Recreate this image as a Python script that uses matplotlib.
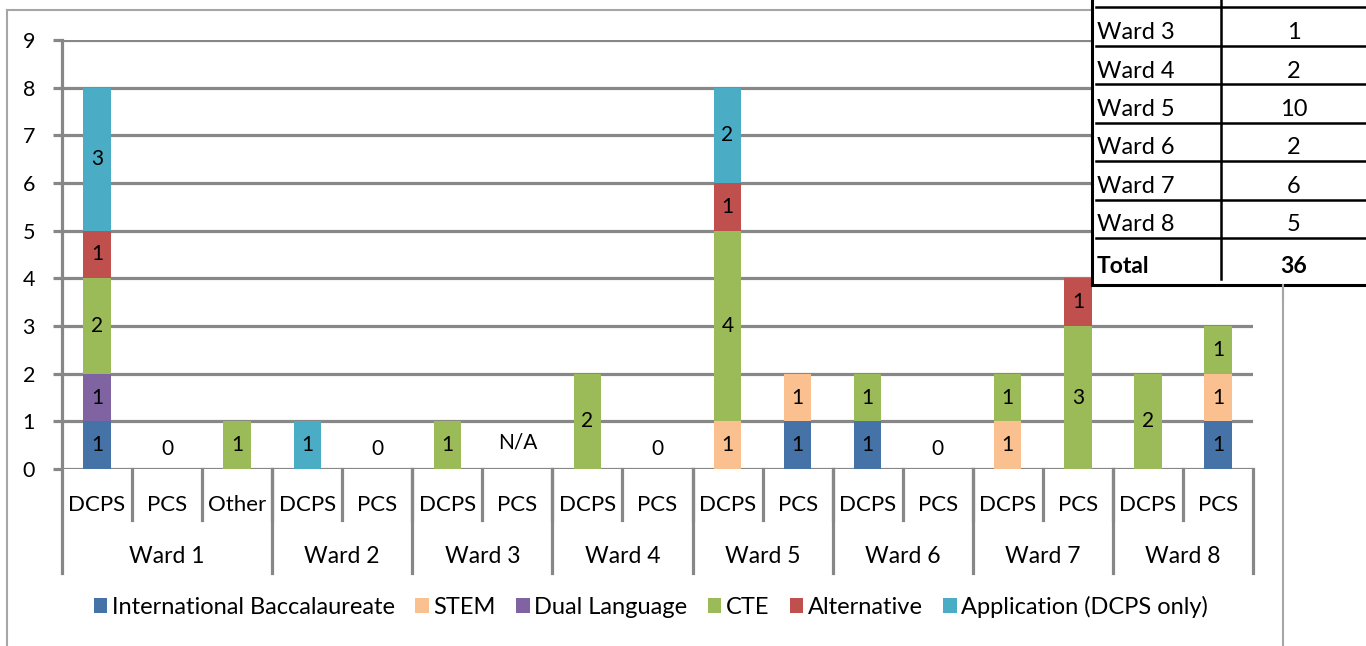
import matplotlib
matplotlib.use("Agg")
import matplotlib.pyplot as plt
from matplotlib.lines import Line2D
from matplotlib.patches import Rectangle, Patch
import numpy as np

plt.rcParams['font.family'] = ['Lato', 'DejaVu Sans']

# ---------------- data ----------------
wards = ['Ward 1', 'Ward 2', 'Ward 3', 'Ward 4', 'Ward 5', 'Ward 6', 'Ward 7', 'Ward 8']
sub_labels = ['DCPS', 'PCS', 'Other', 'DCPS', 'PCS', 'DCPS', 'PCS', 'DCPS', 'PCS',
              'DCPS', 'PCS', 'DCPS', 'PCS', 'DCPS', 'PCS', 'DCPS', 'PCS']
ward_sizes = [3, 2, 2, 2, 2, 2, 2, 2]

series_names = ['International Baccalaureate', 'STEM', 'Dual Language', 'CTE',
                'Alternative', 'Application (DCPS only)']
series_colors = ['#4572A7', '#FAC090', '#8064A2', '#9BBB59', '#C0504D', '#4BACC6']

ib          = [1, 0, 0, 0, 0, 0, 0, 0, 0, 0, 1, 1, 0, 0, 0, 0, 1]
stem        = [0, 0, 0, 0, 0, 0, 0, 0, 0, 1, 1, 0, 0, 1, 0, 0, 1]
dual        = [1, 0, 0, 0, 0, 0, 0, 0, 0, 0, 0, 0, 0, 0, 0, 0, 0]
cte         = [2, 0, 1, 0, 0, 1, 0, 2, 0, 4, 0, 1, 0, 1, 3, 2, 1]
alternative = [1, 0, 0, 0, 0, 0, 0, 0, 0, 1, 0, 0, 0, 0, 1, 0, 0]
application = [3, 0, 0, 1, 0, 0, 0, 0, 0, 2, 0, 0, 0, 0, 0, 0, 0]
series_values = [ib, stem, dual, cte, alternative, application]

# labels shown for empty columns
empty_labels = {1: '0', 4: '0', 6: 'N/A', 8: '0', 12: '0'}

table_wards = ['Ward 1', 'Ward 2', 'Ward 3', 'Ward 4', 'Ward 5', 'Ward 6', 'Ward 7', 'Ward 8']
table_counts = [9, 1, 1, 2, 10, 2, 6, 5]
table_total = 36

# ---------------- figure ----------------
W, H = 1366, 646
fig = plt.figure(figsize=(W / 100, H / 100), dpi=100)

def fx(px):
    return px / W

def fy(py):
    return 1 - py / H

# chart frame
frame_col = '#A6A6A6'
for (x0, y0, x1, y1) in [(7, 10, 7, 660), (7, 10, 1283, 10), (1283, 10, 1283, 660)]:
    fig.add_artist(Line2D([fx(x0), fx(x1)], [fy(y0), fy(y1)], color=frame_col, lw=1.5))

ax_l, ax_r, ax_t, ax_b = 62, 1253, 40, 469
ax = fig.add_axes([fx(ax_l), fy(ax_b), fx(ax_r - ax_l), (ax_b - ax_t) / H])
ax.set_facecolor('none')

grid_col = '#878787'
n = len(sub_labels)
x = np.arange(n)
bottom = np.zeros(n)
for name, vals, col in zip(series_names, series_values, series_colors):
    vals = np.array(vals, dtype=float)
    ax.bar(x, vals, width=0.39, bottom=bottom, color=col, label=name, zorder=2)
    for i in range(n):
        if vals[i] > 0:
            ax.text(x[i], bottom[i] + vals[i] / 2, f'{int(vals[i])}', ha='center',
                    va='center', fontsize=15, color='black', zorder=3)
    bottom += vals

for i, lab in empty_labels.items():
    yoff = 0.55 if lab == 'N/A' else 0.41
    ax.text(x[i], yoff, lab, ha='center', va='center', fontsize=15, color='black')

ax.set_xlim(-0.5, n - 0.5)
ax.set_ylim(0, 9)
ax.set_yticks(range(10))
ax.yaxis.grid(True, color=grid_col, lw=2.3)
ax.set_axisbelow(True)
ax.tick_params(axis='y', length=6.5, width=2.3, color=grid_col, labelsize=15.5, pad=13)
ax.set_xticks([])
for s in ['top', 'right', 'bottom', 'left']:
    ax.spines[s].set_visible(False)

trans = ax.get_xaxis_transform()
axh = ax_b - ax_t
def ay(py):
    return (ax_b - py) / axh

# y axis line extended down through category area
ax.add_line(Line2D([-0.5, -0.5], [1, ay(573)], transform=trans, color=grid_col,
                   lw=2.3, clip_on=False, zorder=1))
# sub-category separators
for b in np.arange(0.5, n - 0.5, 1.0):
    ax.add_line(Line2D([b, b], [0, ay(520)], transform=trans, color=grid_col, lw=2.3,
                       clip_on=False))
# ward separators
edges = np.cumsum([0] + ward_sizes) - 0.5
for e in edges[1:]:
    ax.add_line(Line2D([e, e], [0, ay(573)], transform=trans, color=grid_col, lw=2.3,
                       clip_on=False))
# sub labels
for i, lab in enumerate(sub_labels):
    ax.text(x[i], ay(511), lab, transform=trans, ha='center', va='baseline', fontsize=16)
for k, w in enumerate(wards):
    c = (edges[k] + edges[k + 1]) / 2
    ax.text(c, ay(563), w, transform=trans, ha='center', va='baseline', fontsize=16.5)

# legend
handles = [Patch(facecolor=c, edgecolor='none') for c in series_colors]
fig.legend(handles, series_names, loc='center', bbox_to_anchor=(fx(651), fy(607)),
           ncol=6, frameon=False, fontsize=17, handlelength=0.58, handleheight=0.62,
           handletextpad=0.2, columnspacing=0.85, borderaxespad=0)

# ---------------- table overlay ----------------
tl, tr, tb = 1092, 1370, 285
fig.add_artist(Rectangle((fx(tl), fy(tb)), fx(tr - tl), tb / H + 0.01, facecolor='white',
                         edgecolor='none', zorder=5))
row_h = 38.5
first_top = 7 - 2 * row_h   # top edge of Ward 1 row (above the picture)
lw_t = 1.8
for k, (wname, cnt) in enumerate(zip(table_wards, table_counts)):
    top = first_top + k * row_h
    if top + row_h <= 0:
        continue
    fig.add_artist(Line2D([fx(1096), fx(tr)], [fy(top), fy(top)], color='black', lw=lw_t, zorder=6))
    if top < 0:
        continue
    fig.text(fx(1097), fy(top + 32), wname, ha='left', va='baseline', fontsize=17, zorder=7)
    fig.text(fx(1294), fy(top + 32), str(cnt), ha='center', va='baseline', fontsize=17, zorder=7)
total_top = first_top + len(table_wards) * row_h
fig.add_artist(Line2D([fx(1096), fx(tr)], [fy(total_top), fy(total_top)], color='black', lw=lw_t, zorder=6))
fig.text(fx(1097), fy(273), 'Total', ha='left', va='baseline', fontsize=16.5, fontweight='bold', zorder=7)
fig.text(fx(1294), fy(273), str(table_total), ha='center', va='baseline', fontsize=16.5, fontweight='bold', zorder=7)
# borders
fig.add_artist(Line2D([fx(1221), fx(1221)], [fy(-5), fy(279)], color='black', lw=lw_t, zorder=6))
fig.add_artist(Line2D([fx(tl), fx(tl)], [fy(-5), fy(tb)], color='black', lw=2.2, zorder=6))
fig.add_artist(Line2D([fx(tl), fx(tr)], [fy(tb), fy(tb)], color='black', lw=2.2, zorder=6))
fig.add_artist(Line2D([fx(1283), fx(1283)], [fy(tb), fy(300)], color=frame_col, lw=1.5, zorder=6))

fig.savefig('out.png', dpi=100)
